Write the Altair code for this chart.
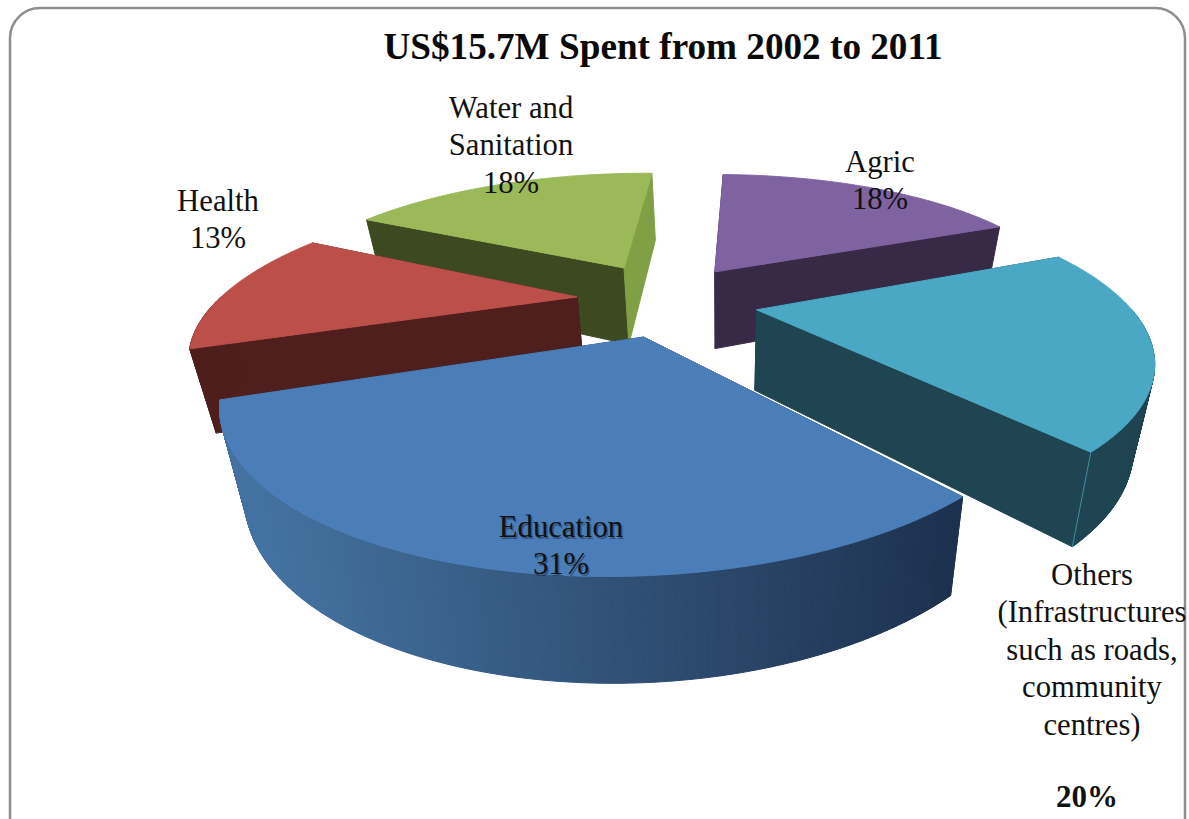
import math
import altair as alt
import pandas as pd

# Spending shares, percent, clockwise from twelve o'clock
SECTORS = ["Agric", "Others", "Education", "Health", "Water and Sanitation"]
SHARES = [18, 20, 31, 13, 18]

# Colours per sector: top face, radial wall at start, radial wall at end, outer wall
TOP = ["#7f63a1", "#4aa8c4", "#4b7eb9", "#bd4f4b", "#9bb958"]
WALL_START = ["#382a47", "#1f4552", "#1f3350", "#4f1f1d", "#3d4a21"]
WALL_END = ["#382a47", "#1f4552", "#1f3350", "#4f1f1d", "#81a045"]
WALL_OUTER = ["#382a47", "#1f4552", None, "#4f1f1d", "#81a045"]
EDU_WALL_LEFT, EDU_WALL_RIGHT = (0x44, 0x73, 0xa1), (0x1e, 0x32, 0x50)

# How far each slice is pulled out of the pie, in pie radii (sideways, backwards)
PULL = [(-0.018, 0.178), (0.096, -0.105), (-0.197, -0.282), (-0.398, -0.014), (-0.286, 0.21)]
# Small per-slice size correction of the drawn radius
SIZE = [1.01, 1.01, 1.0, 0.985, 0.995]

# Painter's order, farthest slice first
DRAW_ORDER = [4, 0, 3, 1, 2]

# Camera model for the tilted pie
FIRST_ANGLE = 1.5
CX, CY, RADIUS, DEPTH, PERSP = 721, 295, 360, 136.8, 0.294


def top_point(u, v):
    s = 1 / (1 + PERSP * v)
    return CX + RADIUS * u * s, CY - DEPTH * v * s, s


def bottom_point(u, v):
    x, y, s = top_point(u, v)
    return x - 0.05 * (x - CX), y + 33 + 46 * s


def polygon(points, fill):
    ring = [[round(a, 2), round(b, 2)] for a, b in points]
    ring.append(ring[0])
    return {"type": "Feature", "properties": {"fill": fill},
            "geometry": {"type": "Polygon", "coordinates": [ring]}}


def lerp_hex(a, b, t):
    t = max(0.0, min(1.0, t))
    return "#%02x%02x%02x" % tuple(round(p + (q - p) * t) for p, q in zip(a, b))


def rim_point(i, deg):
    a = math.radians(deg)
    return PULL[i][0] + SIZE[i] * math.sin(a), PULL[i][1] + SIZE[i] * math.cos(a)


def slice_faces(i, start_deg, sweep_deg):
    steps = max(12, round(sweep_deg * 3))
    degs = [start_deg + sweep_deg * k / steps for k in range(steps + 1)]
    rim = [rim_point(i, d) for d in degs]
    apex = PULL[i]
    faces = []
    for edge, colour in ((rim[0], WALL_START[i]), (rim[-1], WALL_END[i])):
        faces.append(polygon([top_point(*apex)[:2], top_point(*edge)[:2],
                              bottom_point(*edge), bottom_point(*apex)], colour))
    # Only the part of the curved wall that turns towards the viewer is painted
    for k in range(steps):
        if math.cos(math.radians(degs[k])) > 0 and math.cos(math.radians(degs[k + 1])) > 0:
            continue
        p, q = rim[k], rim[k + 1]
        a, b = top_point(*p)[:2], top_point(*q)[:2]
        colour = WALL_OUTER[i]
        if colour is None:
            colour = lerp_hex(EDU_WALL_LEFT, EDU_WALL_RIGHT, (a[0] - 248) / 700)
        faces.append(polygon([a, b, bottom_point(*q), bottom_point(*p)], colour))
    faces.append(polygon([top_point(*apex)[:2]] + [top_point(*p)[:2] for p in rim], TOP[i]))
    return faces


starts = [FIRST_ANGLE + sum(SHARES[:i]) * 3.6 for i in range(len(SHARES))]
features = []
for i in DRAW_ORDER:
    features += slice_faces(i, starts[i], SHARES[i] * 3.6)

# Lighter seam where the front wall of the Others slice meets its outer wall
seam_uv = rim_point(1, starts[1] + SHARES[1] * 3.6)
seam = {"type": "Feature", "properties": {},
        "geometry": {"type": "LineString",
                     "coordinates": [list(top_point(*seam_uv)[:2]), list(bottom_point(*seam_uv))]}}

PROJ = dict(type="identity", scale=1, translate=[0, 0])

pie = alt.Chart(alt.Data(values=features)).mark_geoshape(strokeWidth=1).encode(
    color=alt.Color("properties.fill:N", scale=None, legend=None),
    stroke=alt.Stroke("properties.fill:N", scale=None, legend=None),
).project(**PROJ)

seam_line = alt.Chart(alt.Data(values=[seam])).mark_geoshape(
    filled=False, stroke="#3f8fa6", strokeWidth=1
).project(**PROJ)

frame = alt.Chart(pd.DataFrame({"k": [0]})).mark_rect(
    fill="white", stroke="#8e8e8e", strokeWidth=2.5, cornerRadius=30
).encode(x=alt.value(10), x2=alt.value(1185), y=alt.value(8), y2=alt.value(880))

FONT = "Liberation Serif"
LABEL_TEXT = ["Agric\n18%", "Others\n(Infrastructures\nsuch as roads,\ncommunity\ncentres)",
              "Education\n31%", "Health\n13%", "Water and\nSanitation\n18%"]
LABEL_X = [880, 1092, 561, 218, 511]
LABEL_Y = [172, 585, 537, 211, 118]
labels_df = pd.DataFrame({"text": LABEL_TEXT, "px": LABEL_X, "py": LABEL_Y})


def text_layer(df, **mark_kw):
    return alt.Chart(df).mark_text(
        font=FONT, align="center", baseline="alphabetic", lineBreak="\n", **mark_kw
    ).encode(
        x=alt.X("px:Q", scale=None, axis=None),
        y=alt.Y("py:Q", scale=None, axis=None),
        text="text:N",
    )


labels = text_layer(labels_df, fontSize=30.7, lineHeight=37.4, color="#111111")

edu_shadow = text_layer(
    pd.DataFrame({"text": [LABEL_TEXT[2]], "px": [LABEL_X[2] + 1.5], "py": [LABEL_Y[2] + 1.5]}),
    fontSize=30.7, lineHeight=37.4, color="#10223c", opacity=0.45,
)

others_pct = text_layer(pd.DataFrame({"text": ["20%"], "px": [1087], "py": [807]}),
                        fontSize=31, fontWeight="bold", color="#111111")

title = text_layer(pd.DataFrame({"text": ["US$15.7M Spent from 2002 to 2011"], "px": [663], "py": [59]}),
                   fontSize=37.2, fontWeight="bold", color="#0a0a0a")

chart = alt.layer(frame, pie, seam_line, edu_shadow, labels, others_pct, title).properties(
    width=1189, height=819, padding=0,
    autosize=alt.AutoSizeParams(type="none"),
    background="white",
).configure_view(stroke=None)

chart.save("out.html", embed_options={"renderer": "svg", "actions": False})
